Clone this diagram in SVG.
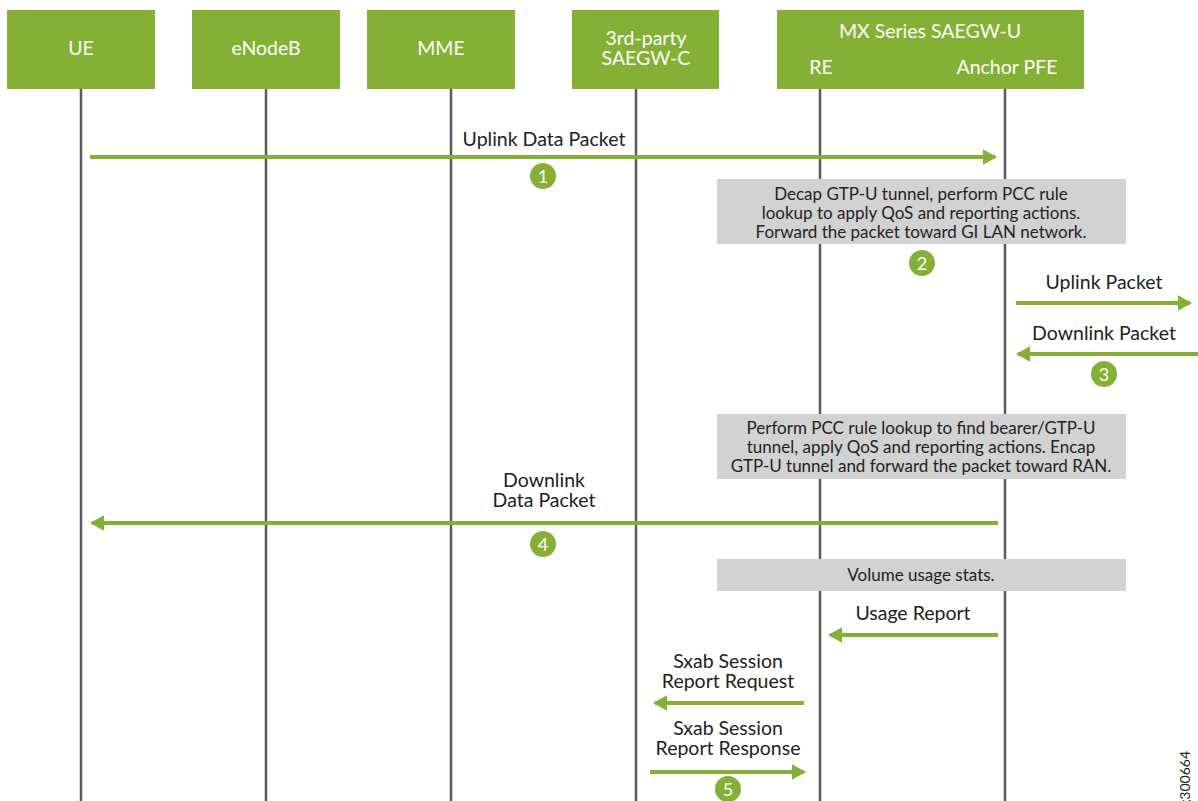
<svg xmlns="http://www.w3.org/2000/svg" width="1198" height="801" viewBox="0 0 1198 801">
<defs>
<style>
.box{fill:#84b135}
.bt{font-family:Lato,"Liberation Sans",sans-serif;font-size:19.5px;fill:#fff;text-anchor:middle}
.life{stroke:#5a5a5a;stroke-width:2.5}
.msg{stroke:#84b135;stroke-width:4;fill:none}
.lbl{font-family:Lato,"Liberation Sans",sans-serif;font-size:19.5px;fill:#222;text-anchor:middle}
.note{fill:#d2d2d2}
.nt{font-family:Lato,"Liberation Sans",sans-serif;font-size:17px;fill:#222;text-anchor:middle}
.num{fill:#84b135}
.nn{font-family:Lato,"Liberation Sans",sans-serif;font-size:18px;fill:#fff;text-anchor:middle}
</style>
<marker id="ah" markerWidth="3.6" markerHeight="4" refX="3.1" refY="2" orient="auto" markerUnits="strokeWidth">
<path d="M0,0 L3.6,2 L0,4 Z" fill="#84b135"/>
</marker>
</defs>
<rect width="1198" height="801" fill="#fff"/>
<g id="lifelines">
<line class="life" x1="81" y1="89" x2="81" y2="801"/>
<line class="life" x1="266" y1="89" x2="266" y2="801"/>
<line class="life" x1="451" y1="89" x2="451" y2="801"/>
<line class="life" x1="636" y1="89" x2="636" y2="801"/>
<line class="life" x1="820" y1="89" x2="820" y2="801"/>
<line class="life" x1="1005" y1="89" x2="1005" y2="801"/>
</g>
<g id="node-ue"><rect class="box" x="7" y="10" width="148" height="79"/><text class="bt" x="81" y="55">UE</text></g>
<g id="node-enodeb"><rect class="box" x="192" y="10" width="148" height="79"/><text class="bt" x="266" y="55">eNodeB</text></g>
<g id="node-mme"><rect class="box" x="367" y="10" width="148" height="79"/><text class="bt" x="441" y="55">MME</text></g>
<g id="node-saegwc"><rect class="box" x="572" y="10" width="147" height="79"/><text class="bt" x="646" y="45">3rd-party</text><text class="bt" x="646" y="65">SAEGW-C</text></g>
<g id="node-saegwu"><rect class="box" x="777" y="10" width="307" height="79"/><text class="bt" x="930" y="38">MX Series SAEGW-U</text><text class="bt" x="821" y="74">RE</text><text class="bt" x="1007" y="74">Anchor PFE</text></g>
<g id="notes">
<rect class="note" x="717" y="179" width="409" height="65"/>
<text class="nt" x="921" y="200">Decap GTP-U tunnel, perform PCC rule</text>
<text class="nt" x="921" y="219">lookup to apply QoS and reporting actions.</text>
<text class="nt" x="921" y="238">Forward the packet toward GI LAN network.</text>
<rect class="note" x="717" y="414" width="409" height="65"/>
<text class="nt" x="921" y="434">Perform PCC rule lookup to find bearer/GTP-U</text>
<text class="nt" x="921" y="453">tunnel, apply QoS and reporting actions. Encap</text>
<text class="nt" x="921" y="472">GTP-U tunnel and forward the packet toward RAN.</text>
<rect class="note" x="717" y="559" width="409" height="32"/>
<text class="nt" x="921" y="581">Volume usage stats.</text>
</g>
<g id="connectors">
<line class="msg" x1="90" y1="157" x2="995" y2="157" marker-end="url(#ah)"/>
<text class="lbl" x="544" y="146">Uplink Data Packet</text>
<line class="msg" x1="1016" y1="303" x2="1190" y2="303" marker-end="url(#ah)"/>
<text class="lbl" x="1104" y="289">Uplink Packet</text>
<line class="msg" x1="1198" y1="354" x2="1018" y2="354" marker-end="url(#ah)"/>
<text class="lbl" x="1104" y="340">Downlink Packet</text>
<line class="msg" x1="998" y1="523" x2="92" y2="523" marker-end="url(#ah)"/>
<text class="lbl" x="544" y="487">Downlink</text>
<text class="lbl" x="544" y="507">Data Packet</text>
<line class="msg" x1="998" y1="635" x2="830" y2="635" marker-end="url(#ah)"/>
<text class="lbl" x="913" y="620">Usage Report</text>
<line class="msg" x1="804" y1="703" x2="655" y2="703" marker-end="url(#ah)"/>
<text class="lbl" x="728" y="668">Sxab Session</text>
<text class="lbl" x="728" y="688">Report Request</text>
<line class="msg" x1="650" y1="772" x2="804" y2="772" marker-end="url(#ah)"/>
<text class="lbl" x="728" y="735">Sxab Session</text>
<text class="lbl" x="728" y="755">Report Response</text>
</g>
<g id="steps">
<circle class="num" cx="543" cy="176" r="13"/><text class="nn" x="543" y="182.5">1</text>
<circle class="num" cx="922" cy="263" r="13"/><text class="nn" x="922" y="269.5">2</text>
<circle class="num" cx="1104" cy="374" r="13"/><text class="nn" x="1104" y="380.5">3</text>
<circle class="num" cx="543" cy="544" r="13"/><text class="nn" x="543" y="550.5">4</text>
<circle class="num" cx="728" cy="789" r="13"/><text class="nn" x="728" y="795.5">5</text>
</g>
<text transform="translate(1190,807) rotate(-90)" font-family="Lato,'Liberation Sans',sans-serif" font-size="14" fill="#222">g300664</text>
</svg>
